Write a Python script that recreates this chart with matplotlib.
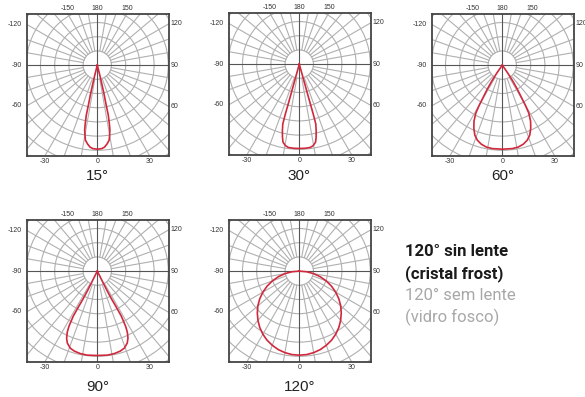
import numpy as np
import matplotlib.pyplot as plt
from matplotlib.patches import Circle

# Beam labels and half-outlines of each light distribution curve
# (angle in degrees from nadir, intensity in grid-ring units)
beam_labels = ['15°', '30°', '60°', '90°', '120°']

angles_15 = [0, 3, 5, 7, 9, 10, 11, 11.7, 12.4, 12.6, 13.1, 13.4, 14, 14]
intensity_15 = [5.92, 5.89, 5.8, 5.6, 5.35, 5.0, 4.66, 4.17, 3.6, 2.74, 2.17, 1.52, 0.87, 0]

angles_30 = [0, 4, 7.5, 9.7, 11.8, 12.9, 14.2, 15.4, 15.6, 15.5, 15.5, 15.5]
intensity_30 = [5.94, 5.94, 5.92, 5.82, 5.61, 5.30, 4.85, 4.38, 3.66, 2.63, 1.32, 0]

angles_60 = [0, 6.8, 11, 14.9, 18.4, 21.4, 24.3, 26.8, 28.9, 29.9, 30.7, 32, 33.3, 34.5, 35]
intensity_60 = [5.92, 5.92, 5.88, 5.76, 5.57, 5.30, 4.87, 4.42, 3.86, 3.25, 2.62, 1.99, 1.35, 0.68, 0]

angles_90 = [0, 6.8, 11.6, 16, 19.3, 22.6, 24.6, 26.2, 27.2, 28.1, 27.8, 27.1, 26.6, 26.6, 26.6]
intensity_90 = [5.94, 5.96, 5.93, 5.86, 5.75, 5.49, 5.19, 4.79, 4.36, 3.59, 2.87, 2.21, 1.50, 0.79, 0]

angles_120 = [0, 5, 10, 15, 20, 25, 30, 35, 40, 45, 50, 55, 60, 65, 70, 75, 80, 85, 90]
intensity_120 = [5.92, 5.90, 5.83, 5.72, 5.56, 5.37, 5.13, 4.85, 4.53, 4.18, 3.81,
                 3.40, 2.96, 2.50, 2.02, 1.53, 1.03, 0.52, 0]

curve_angles = [angles_15, angles_30, angles_60, angles_90, angles_120]
curve_intensity = [intensity_15, intensity_30, intensity_60, intensity_90, intensity_120]

# Angle labels around the box
top_ticks = [-150, 180, 150]
left_ticks = [-120, -90, -60]
right_ticks = [120, 90, 60]
bottom_ticks = [-30, 0, 30]

legend_lines = ['120° sin lente', '(cristal frost)', '120° sem lente', '(vidro fosco)']

# Layout (pixels)
W, H = 585, 397
BOX = 142
XLIM = (-4.95, 5.05)
YLIM = (-6.4, 3.6)
panel_pos = [(27, 14), (229, 13), (432, 14), (27, 220), (229, 220)]
title_y = [176, 176, 176, 387, 387]

RED = '#d0283c'
GRID = '#b0b0b0'
DARK = '#555555'


def draw_grid(ax):
    """Concentric rings, 10 degree spokes and the two main axes"""
    for k in range(1, 9):
        ax.add_patch(Circle((0, 0), k, fill=False, ec=GRID, lw=0.8))
    for a in range(0, 360, 10):
        if a % 90 == 0:
            continue
        t = np.radians(a)
        ax.plot([np.sin(t), 12 * np.sin(t)], [-np.cos(t), -12 * np.cos(t)],
                color=GRID, lw=0.8)
    ax.axhline(0, color=DARK, lw=0.8)
    ax.axvline(0, color=DARK, lw=0.8)


def draw_ticks(ax):
    """Angle labels where the spokes leave the box"""
    kw = dict(textcoords='offset points', fontsize=5, color='#333333',
              annotation_clip=False, family='Liberation Sans')
    for a in top_ticks:
        t = np.radians(a)
        x = YLIM[1] * np.sin(t) / -np.cos(t)
        ax.annotate(str(a), (x, YLIM[1]), xytext=(0, 1.2), ha='center', va='bottom', **kw)
    for a in bottom_ticks:
        t = np.radians(a)
        x = YLIM[0] * np.sin(t) / -np.cos(t)
        ax.annotate(str(a), (x, YLIM[0]), xytext=(0, -1.2), ha='center', va='top', **kw)
    for a in left_ticks:
        t = np.radians(a)
        y = XLIM[0] * -np.cos(t) / np.sin(t)
        ax.annotate(str(a), (XLIM[0], y), xytext=(-3.5, 0), ha='right', va='center', **kw)
    for a in right_ticks:
        t = np.radians(a)
        y = XLIM[1] * -np.cos(t) / np.sin(t)
        ax.annotate(str(a), (XLIM[1], y), xytext=(1.0, 0), ha='left', va='center', **kw)


fig = plt.figure(figsize=(W / 100, H / 100), dpi=100)

for i, label in enumerate(beam_labels):
    x0, y0 = panel_pos[i]
    ax = fig.add_axes([x0 / W, 1 - (y0 + BOX) / H, BOX / W, BOX / H])
    ax.set_xlim(*XLIM)
    ax.set_ylim(*YLIM)
    ax.set_xticks([])
    ax.set_yticks([])
    for s in ax.spines.values():
        s.set_color('#444444')
        s.set_linewidth(1.3)

    draw_grid(ax)
    draw_ticks(ax)

    # mirror the half outline to get the full curve
    ang = np.radians(curve_angles[i])
    r = np.array(curve_intensity[i])
    theta = np.concatenate([-ang[::-1], ang[1:]])
    rr = np.concatenate([r[::-1], r[1:]])
    ax.plot(rr * np.sin(theta), -rr * np.cos(theta), color=RED, lw=1.2, zorder=5)

    cx = x0 + (0 - XLIM[0]) / (XLIM[1] - XLIM[0]) * BOX
    fig.text(cx / W, 1 - title_y[i] / H, label, ha='center', va='center',
             fontsize=11, color='#222222', family='Liberation Sans')

# Legend text on the right
legend_y = [252, 273.5, 296, 317.5]
legend_color = ['#1a1a1a', '#1a1a1a', '#a8a8a8', '#a8a8a8']
legend_weight = ['bold', 'bold', 'normal', 'normal']
for txt, y, c, w in zip(legend_lines, legend_y, legend_color, legend_weight):
    fig.text(405 / W, 1 - y / H, txt, ha='left', va='center', fontsize=12,
             color=c, weight=w, family='Roboto')

fig.savefig('out.png', dpi=100)
